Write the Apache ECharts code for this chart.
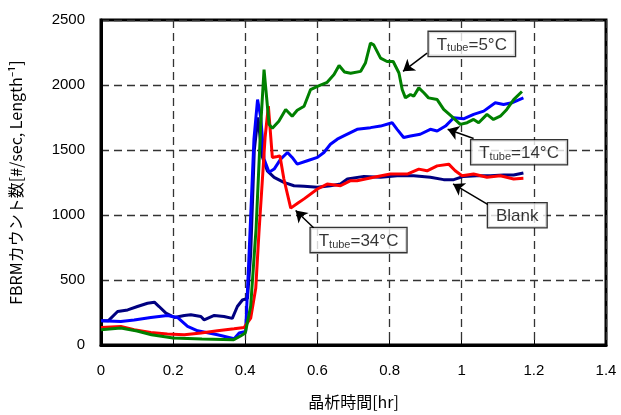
<!DOCTYPE html>
<html>
<head>
<meta charset="utf-8">
<script src="https://cdn.jsdelivr.net/npm/echarts@6/dist/echarts.min.js"></script>
<style>
html,body{margin:0;padding:0;background:#fff;}
#chart{width:621px;height:415px;}
</style>
</head>
<body>
<div id="chart"></div>
<script>
// ---- data (x = 晶析時間 [hr], y = FBRM count) ----
var xTicks = [0, 0.2, 0.4, 0.6, 0.8, 1, 1.2, 1.4];
var yTicks = [0, 500, 1000, 1500, 2000, 2500];

var blankData = [[0,186],[0.02,186],[0.046,258],[0.074,270],[0.101,296],[0.129,321],[0.148,329],[0.161,296],[0.18,245],[0.203,212],[0.231,227],[0.249,232],[0.277,219],[0.286,193],[0.314,227],[0.341,219],[0.364,205],[0.378,296],[0.392,346],[0.406,359],[0.415,700],[0.425,1500],[0.435,1750],[0.447,1450],[0.461,1340],[0.48,1290],[0.507,1251],[0.535,1225],[0.563,1221],[0.6,1213],[0.636,1225],[0.664,1238],[0.683,1277],[0.729,1297],[0.775,1290],[0.821,1302],[0.867,1302],[0.913,1290],[0.95,1272],[0.978,1272],[1.005,1297],[1.042,1302],[1.079,1302],[1.116,1307],[1.144,1307],[1.171,1323]];

var t14Data = [[0,186],[0.055,181],[0.092,193],[0.138,212],[0.184,227],[0.212,212],[0.24,143],[0.268,109],[0.323,79],[0.369,48],[0.383,92],[0.401,105],[0.41,665],[0.424,1583],[0.434,1888],[0.443,1748],[0.452,1430],[0.466,1328],[0.48,1353],[0.498,1430],[0.517,1481],[0.53,1443],[0.544,1391],[0.572,1417],[0.6,1443],[0.618,1481],[0.636,1544],[0.655,1583],[0.673,1608],[0.71,1659],[0.747,1672],[0.775,1684],[0.807,1710],[0.821,1659],[0.839,1596],[0.858,1608],[0.885,1621],[0.913,1659],[0.932,1646],[0.955,1684],[0.978,1748],[1.005,1740],[1.033,1774],[1.061,1799],[1.093,1863],[1.116,1850],[1.139,1863],[1.171,1901]];

var t34Data = [[0,135],[0.055,143],[0.092,117],[0.138,97],[0.184,84],[0.231,79],[0.277,92],[0.323,109],[0.369,125],[0.397,135],[0.415,206],[0.429,436],[0.438,870],[0.447,1254],[0.455,1600],[0.464,1837],[0.475,1443],[0.489,1450],[0.496,1455],[0.507,1277],[0.526,1053],[0.545,1090],[0.563,1124],[0.6,1200],[0.627,1238],[0.664,1225],[0.692,1264],[0.71,1264],[0.756,1290],[0.802,1315],[0.849,1315],[0.881,1353],[0.904,1340],[0.932,1378],[0.964,1391],[0.982,1340],[1.001,1302],[1.033,1315],[1.07,1290],[1.107,1302],[1.144,1277],[1.171,1282]];

var t5Data = [[0,117],[0.055,130],[0.1,108],[0.14,79],[0.2,54],[0.28,47],[0.368,41],[0.387,69],[0.4,92],[0.415,300],[0.43,900],[0.443,1700],[0.452,2118],[0.466,1697],[0.475,1667],[0.493,1722],[0.512,1812],[0.53,1760],[0.544,1806],[0.563,1837],[0.581,1965],[0.6,1990],[0.627,2021],[0.646,2080],[0.66,2150],[0.675,2100],[0.692,2090],[0.72,2105],[0.733,2169],[0.747,2322],[0.756,2309],[0.775,2207],[0.793,2181],[0.81,2181],[0.826,2092],[0.835,1965],[0.844,1901],[0.858,1927],[0.867,1913],[0.881,1978],[0.895,1940],[0.908,1901],[0.932,1888],[0.95,1812],[0.973,1756],[0.996,1697],[1.015,1710],[1.033,1735],[1.047,1710],[1.07,1774],[1.088,1735],[1.107,1760],[1.125,1812],[1.144,1888],[1.167,1950]];

// annotations: box centre, arrow tail, arrow tip (data coords)
var annoText = ['{t|T}{s|tube}{t|=5°C}', '{t|T}{s|tube}{t|=14°C}', '{t|Blank}', '{t|T}{s|tube}{t|=34°C}'];
var annoBox  = [[1.028,2316],[1.159,1483],[1.154,998],[0.714,807]];
var annoTail = [[0.904,2245],[1.033,1588],[1.073,1080],[0.590,900]];
var annoTip  = [[0.8373,2105],[0.961,1659],[0.976,1239],[0.5396,1034]];

var chart = echarts.init(document.getElementById('chart'), null, {renderer:'canvas'});

function lineSeries(name, data, color, z) {
  return {
    name: name, type: 'line', data: data, showSymbol: false, symbol: 'none',
    lineStyle: {color: color, width: 3}, z: z, animation: false, silent: true
  };
}

var richStyle = {
  t: {fontSize: 17, fontFamily: 'Liberation Sans, Arial, sans-serif', color: '#000', verticalAlign: 'bottom', lineHeight: 20},
  s: {fontSize: 11, fontFamily: 'Liberation Sans, Arial, sans-serif', color: '#000', verticalAlign: 'bottom', lineHeight: 12}
};

var option = {
  animation: false,
  backgroundColor: '#fff',
  grid: {left: 100, right: 15, top: 20, bottom: 68, show: true, borderColor: '#000', borderWidth: 3, backgroundColor: 'transparent'},
  xAxis: {
    type: 'value', min: xTicks[0], max: xTicks[xTicks.length-1], interval: 0.2,
    name: '晶析時間[hr]', nameLocation: 'middle', nameGap: 49,
    nameTextStyle: {fontSize: 16, color: '#000', fontFamily: 'Noto Sans CJK JP'},
    axisLine: {lineStyle: {color: '#000', width: 3}},
    axisTick: {inside: true, length: 5, lineStyle: {color: '#000'}},
    axisLabel: {fontSize: 15, color: '#000', margin: 18, fontFamily: 'Liberation Sans, Arial, sans-serif',
      formatter: function (v) { return String(+v.toFixed(1)); }},
    splitLine: {show: true, lineStyle: {color: '#333', type: [8, 5], width: 1.3}}
  },
  yAxis: {
    type: 'value', min: yTicks[0], max: yTicks[yTicks.length-1], interval: 500,
    name: 'FBRMカウント数[#/sec, Length⁻¹]', nameLocation: 'middle', nameGap: 77,
    nameTextStyle: {fontSize: 16, color: '#000', fontFamily: 'Noto Sans CJK JP'},
    axisLine: {show: true, lineStyle: {color: '#000', width: 3}},
    axisTick: {show: false},
    axisLabel: {fontSize: 15, color: '#000', margin: 16, fontFamily: 'Liberation Sans, Arial, sans-serif',
      formatter: function (v) { return String(v); }},
    splitLine: {show: true, lineStyle: {color: '#333', type: [8, 5], width: 1.3}}
  },
  series: [
    lineSeries('Blank', blankData, '#000080', 2),
    lineSeries('Ttube=14°C', t14Data, '#0000ff', 3),
    lineSeries('Ttube=34°C', t34Data, '#ff0000', 4),
    lineSeries('Ttube=5°C', t5Data, '#008000', 5),
    {
      type: 'lines', coordinateSystem: 'cartesian2d', silent: true, z: 8,
      symbol: ['none', 'arrow'], symbolSize: 11,
      lineStyle: {color: '#000', width: 1.5, curveness: 0, opacity: 1},
      data: annoTail.map(function (t, i) { return {coords: [t, annoTip[i]]}; })
    },
    {
      type: 'scatter', silent: true, z: 9, symbolSize: 0,
      data: annoBox.map(function (b, i) {
        return {
          value: b,
          label: {
            show: true, position: 'inside', formatter: annoText[i], rich: richStyle,
            backgroundColor: '#fff', borderColor: '#000', borderWidth: 1.3,
            padding: [2, 8, 2, 8]
          }
        };
      })
    }
  ]
};
chart.setOption(option);
</script>
</body>
</html>
